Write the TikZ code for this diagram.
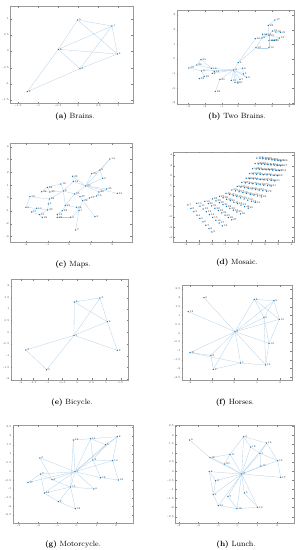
\documentclass[tikz,border=0pt]{standalone}
\usetikzlibrary{positioning}
\pgfdeclarelayer{bg}
\pgfsetlayers{bg,main}
\definecolor{markblue}{rgb}{0,0.447,0.741}
\definecolor{edgeblue}{RGB}{178,208,234}
\tikzset{
  pt/.style={circle,fill=markblue,inner sep=0pt,minimum size=1.5pt},
  lbl/.style={font=\fontsize{2.6}{3}\selectfont,text=black!85,inner sep=0.3pt,label distance=0pt},
  conn/.style={draw=edgeblue,line width=0.3pt},
  axbox/.style={draw=black!40,line width=0.25pt},
  axtick/.style={draw=black!50,line width=0.2pt},
  ticklbl/.style={font=\fontsize{2.8}{3.3}\selectfont,text=black!75,inner sep=0.4pt},
  captext/.style={font=\fontsize{7.6}{9}\selectfont,inner sep=0pt}
}
\newcommand\drawaxes[6]{%
  \draw[axbox] (#1,#2) rectangle (#3,#4);
  \foreach \tv/\tp in {#5}{
    \draw[axtick] (\tp,#4) -- ++(0,-5);
    \draw[axtick] (\tp,#2) -- ++(0,5);
    \node[ticklbl,below] at (\tp,#4+3) {\tv};
  }
  \foreach \tv/\tp in {#6}{
    \draw[axtick] (#1,\tp) -- ++(5,0);
    \draw[axtick] (#3,\tp) -- ++(-5,0);
    \node[ticklbl,left] at (#1-2,\tp) {\tv};
  }
}
\begin{document}
\begin{tikzpicture}[x=1pt,y=-1pt]
\useasboundingbox (0,0) rectangle (300,550);

% ---------------- (a) Brains
\begin{scope}[shift={(0,0)},x=0.3333pt,y=-0.3333pt]
\drawaxes{30}{18}{398}{310}{-1.5/55,-1/115,-0.5/175,0/235,0.5/295,1/355}{1/57,0.5/105,0/153,-0.5/203,-1/252,-1.5/300}
\foreach \n/\x/\y in {5/233/60,1/336/78,6/175/148,4/352/162,3/240/206,2/82/275}
  \node[pt,label={[lbl]right:\n}] (a\n) at (\x,\y) {};
\begin{pgfonlayer}{bg}
\foreach \p/\q in {2/6,2/3,3/4,3/6,3/1,5/6,5/1,5/4,1/6,1/4,6/4}
  \draw[conn] (a\p) -- (a\q);
\end{pgfonlayer}
\end{scope}

% ---------------- (b) Two Brains
\begin{scope}[shift={(150,0)},x=0.3333pt,y=-0.3333pt]
\drawaxes{80}{30}{432}{313}{-3/115,-2/165,-1/215,0/265,1/315,2/367,3/418}{3/45,2/89,1/133,0/177,-1/221,-2/265,-3/309}
\foreach \n/\lb/\x/\y in {1/3/251/210,2/4/265/188,3/6/278/205,4/5/280/222,5/2/290/232,6/7/270/238,7/15/244/241,8/12/255/247,9/11/264/249,10/20/210/238,11/28/196/274,12/24/153/179,13/26/141/195,14/13/117/204,15/16/185/205,16/9/155/213,17/14/193/214,18/8/187/220,19/25/163/229,20/18/148/236,21/17/375/60,22/23/355/76,23/16/367/93,24/18/378/96,25/21/392/97,26/15/338/103,27/14/348/104,28/13/357/106,29/10/316/116,30/11/357/122,31/22/366/121,32/20/373/121,33/19/388/114,34/12/318/143,35/10/357/143,36/9/336/114}
  \node[pt,label={[lbl]right:\lb}] (b\n) at (\x,\y) {};
\begin{pgfonlayer}{bg}
\foreach \p/\q in {1/2,1/3,1/4,1/5,1/6,1/7,1/8,1/9,1/10,1/15,1/17,1/18,1/16,10/11,15/12,15/13,15/16,17/18,16/14,16/19,19/20,13/14,12/13,2/34,2/29,34/36,29/36,36/26,36/27,36/28,28/22,22/21,28/23,23/24,24/25,28/30,30/31,31/32,32/33,35/30,35/34,28/33,3/4,4/5}
  \draw[conn] (b\p) -- (b\q);
\end{pgfonlayer}
\end{scope}

% ---------------- (c) Maps
\begin{scope}[shift={(0,130)},x=0.3333pt,y=-0.3333pt]
\drawaxes{30}{40}{395}{337}{-2/78,-1/143,0/207,1/272,2/337}{4/50,3/88,2/127,1/166,0/204,-1/242,-2/281,-3/319}
\foreach \n/\lb/\x/\y in {1/14/330/87,2/8/300/120,3/30/275/131,4/5/308/145,5/33/218/139,6/13/220/154,7/18/183/162,8/20/257/168,9/28/142/172,10/34/125/185,11/27/150/186,12/6/190/183,13/35/320/177,14/26/297/186,15/31/352/190,16/25/224/192,17/37/240/200,18/12/90/200,19/16/290/198,20/17/268/204,21/38/148/207,22/29/248/212,23/4/145/222,24/21/196/226,25/9/78/232,26/10/110/235,27/24/230/232,28/11/95/246,29/23/143/240,30/22/187/242,31/1/237/242,32/15/118/254,33/19/172/253,34/36/127/262,35/32/172/262,36/2/212/262,37/3/285/260,38/7/227/300}
  \node[pt,label={[lbl]right:\lb}] (c\n) at (\x,\y) {};
\begin{pgfonlayer}{bg}
\foreach \p/\q in {1/2,1/8,2/3,2/4,3/8,4/8,8/5,8/6,8/16,8/14,8/13,8/15,13/14,14/19,19/20,20/22,22/17,17/16,16/12,12/7,7/9,9/10,10/11,11/12,12/21,21/18,18/25,25/26,26/28,26/29,29/23,23/21,24/30,24/27,27/31,31/22,30/33,33/35,35/36,36/31,32/34,32/28,29/32,37/22,38/31,24/16,12/24,5/6,6/12,9/11}
  \draw[conn] (c\p) -- (c\q);
\end{pgfonlayer}
\end{scope}

% ---------------- (d) Mosaic
\begin{scope}[shift={(150,130)},x=0.3333pt,y=-0.3333pt]
\drawaxes{70}{65}{432}{335}{-4/108,-3/147,-2/186,-1/225,0/265,1/305,2/345,3/385,4/425}{4/75,3/107,2/138,1/168,0/198,-1/228,-2/260,-3/292,-4/322}
\foreach \i in {0,...,13}{
  \foreach \j in {0,...,8}{
    \pgfmathsetmacro\uu{\i/13}
    \pgfmathsetmacro\vv{\j/8}
    \pgfmathsetmacro\ax{(1-\uu)^2*114+2*\uu*(1-\uu)*290+\uu^2*321}
    \pgfmathsetmacro\ay{(1-\uu)^2*225+2*\uu*(1-\uu)*195+\uu^2*84}
    \pgfmathsetmacro\bx{(1-\uu)^2*186+2*\uu*(1-\uu)*395+\uu^2*393}
    \pgfmathsetmacro\by{(1-\uu)^2*306+2*\uu*(1-\uu)*185+\uu^2*93}
    \pgfmathsetmacro\px{(1-\vv)*\ax+\vv*\bx}
    \pgfmathsetmacro\py{(1-\vv)*\ay+\vv*\by}
    \pgfmathtruncatemacro\kk{\i*9+\j+1}
    \node[pt,label={[lbl]right:\kk}] (d\kk) at (\px,\py) {};
  }
}
\end{scope}

% ---------------- (e) Bicycle
\begin{scope}[shift={(0,270)},x=0.3333pt,y=-0.3333pt]
\drawaxes{32}{28}{385}{330}{-2/62,-1.5/100,-1/143,-0.5/187,0/232,0.5/275,1/318,1.5/362}{2/48,1.5/83,1/117,0.5/151,0/187,-0.5/222,-1/257,-1.5/292,-2/327}
\foreach \n/\x/\y in {8/223/96,3/300/84,4/322/155,1/222/196,7/78/240,2/352/241,5/140/299}
  \node[pt,label={[lbl]right:\n}] (e\n) at (\x,\y) {};
\begin{pgfonlayer}{bg}
\foreach \p/\q in {8/3,8/1,8/4,3/1,3/4,1/4,1/7,1/2,7/5,5/1,4/2}
  \draw[conn] (e\p) -- (e\q);
\end{pgfonlayer}
\end{scope}

% ---------------- (f) Horses
\begin{scope}[shift={(150,270)},x=0.3333pt,y=-0.3333pt]
\drawaxes{95}{45}{425}{330}{-2/120,-1/185,0/253,1/321,2/390}{2.5/57,2/83.5,1.5/110,1/136.5,0.5/163,0/189.5,-0.5/216,-1/242.5,-1.5/269,-2/295.5,-2.5/322}
\foreach \n/\x/\y in {6/162/83,12/115/125,8/313/88,9/372/92,5/342/143,10/388/148,7/255/185,13/357/220,11/120/248,3/183/256,2/190/298,1/272/279,14/347/285}
  \node[pt,label={[lbl]right:\n}] (f\n) at (\x,\y) {};
\begin{pgfonlayer}{bg}
\foreach \p/\q in {7/6,7/12,7/8,7/5,7/10,7/9,7/13,7/11,7/3,7/2,7/1,7/14,8/9,8/10,8/5,9/10,9/5,5/13,10/13,13/14,11/3,11/1,3/2,2/1,1/14,5/14}
  \draw[conn] (f\p) -- (f\q);
\end{pgfonlayer}
\end{scope}

% ---------------- (g) Motorcycle
\begin{scope}[shift={(0,410)},x=0.3333pt,y=-0.3333pt]
\drawaxes{38}{45}{400}{340}{-3/55,-2/115,-1/172,0/230,1/290,2/348}{2.5/50,2/77,1.5/104,1/131,0.5/157,0/184,-0.5/211,-1/237,-1.5/263,-2/289,-2.5/314}
\foreach \n/\x/\y in {13/220/90,11/272/86,8/352/80,5/317/104,3/279/150,10/338/152,9/120/144,1/225/185,7/122/192,4/156/209,12/302/203,16/355/210,17/84/217,15/212/231,6/282/237,14/133/249,2/175/275,18/226/296}
  \node[pt,label={[lbl]right:\n}] (g\n) at (\x,\y) {};
\begin{pgfonlayer}{bg}
\foreach \p/\q in {1/13,1/11,1/8,1/5,1/3,1/10,1/9,1/7,1/4,1/12,1/17,1/15,1/6,1/14,13/11,11/8,11/5,5/8,3/10,8/10,10/16,12/16,3/12,9/4,7/4,7/17,7/14,4/15,15/14,14/2,2/15,2/18,15/18,15/6,13/15,11/3,5/3}
  \draw[conn] (g\p) -- (g\q);
\end{pgfonlayer}
\end{scope}

% ---------------- (h) Lunch
\begin{scope}[shift={(150,410)},x=0.3333pt,y=-0.3333pt]
\drawaxes{75}{45}{432}{340}{-3/87,-2/145,-1/205,0/263,1/322,2/381}{2.5/48,2/76,1.5/102,1/130,0.5/156,0/184,-0.5/211,-1/238,-1.5/265,-2/292,-2.5/320}
\foreach \n/\x/\y in {6/119/90,2/281/80,14/350/99,12/302/111,1/330/130,11/240/133,18/180/143,13/383/152,20/224/162,15/333/168,8/178/185,3/275/192,17/392/202,9/197/212,5/283/249,4/190/254,7/234/259,10/205/287,16/261/296,19/323/292}
  \node[pt,label={[lbl]right:\n}] (h\n) at (\x,\y) {};
\begin{pgfonlayer}{bg}
\foreach \p/\q in {3/2,3/14,3/12,3/1,3/11,3/18,3/13,3/20,3/15,3/8,3/17,3/9,3/5,3/4,3/7,3/10,3/16,3/19,6/18,2/12,2/11,14/1,14/13,1/13,13/17,11/18,11/20,18/20,8/9,9/4,4/10,10/16,16/19,7/16,5/19,8/4,1/15,12/1,2/14}
  \draw[conn] (h\p) -- (h\q);
\end{pgfonlayer}
\end{scope}

% ---------------- captions
\node[captext] (capa) at (75,117) {\textbf{(a)} Brains.};
\node[captext] (capb) at (237,117) {\textbf{(b)} Two Brains.};
\node[captext] (capc) at (73,265) {\textbf{(c)} Maps.};
\node[captext] (capd) at (237,263) {\textbf{(d)} Mosaic.};
\node[captext] (cape) at (72,403) {\textbf{(e)} Bicycle.};
\node[captext] (capf) at (235,403) {\textbf{(f)} Horses.};
\node[captext] (capg) at (73,545) {\textbf{(g)} Motorcycle.};
\node[captext] (caph) at (236,545) {\textbf{(h)} Lunch.};
\end{tikzpicture}
\end{document}
